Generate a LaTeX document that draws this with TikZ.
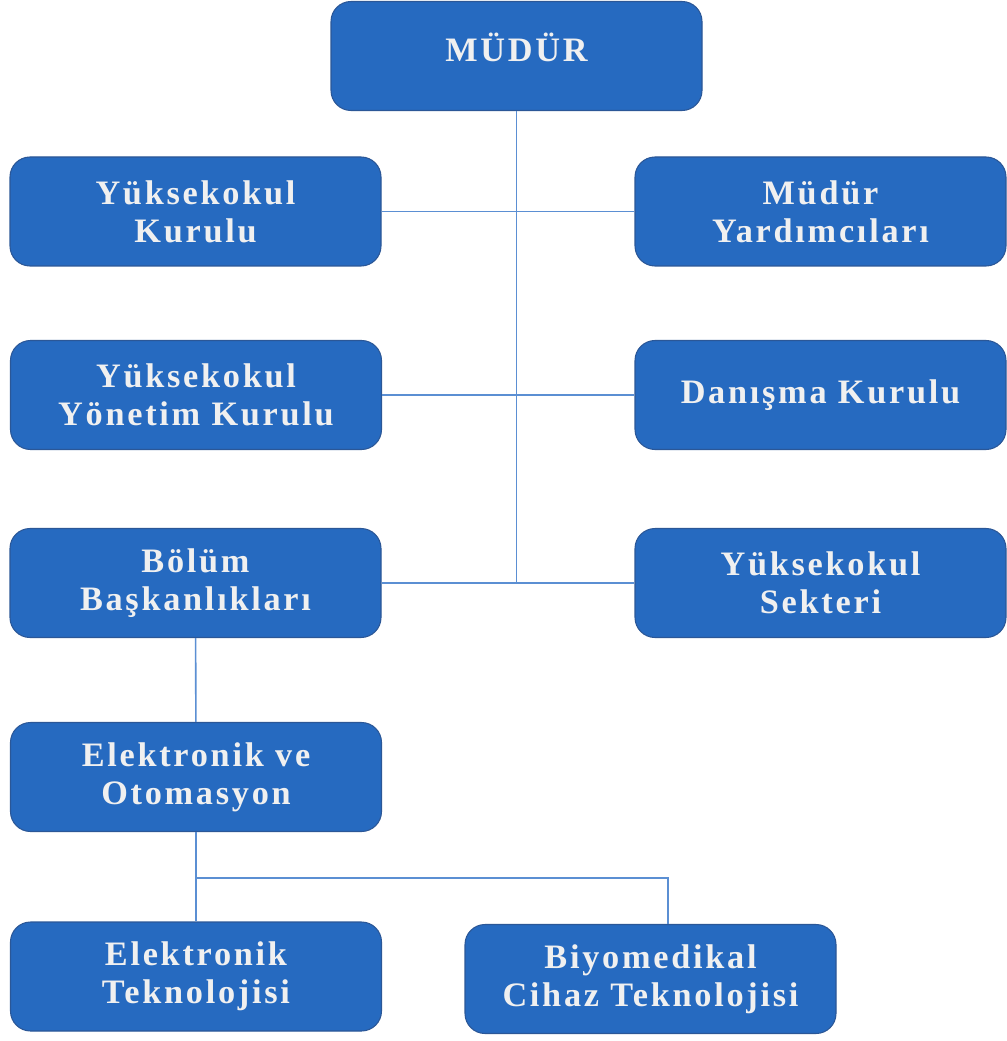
\documentclass[tikz,border=0pt]{standalone}
\usepackage{fontspec}
\usepackage{tikz}
\newfontfamily\unitfont[LetterSpace=8]{Liberation Serif}
\definecolor{unitblue}{HTML}{266AC0}
\definecolor{unitedge}{HTML}{2B5797}
\definecolor{linkblue}{HTML}{5B8FD3}
\tikzstyle{unit} = [draw=unitedge,fill=unitblue,line width=0.6pt,rounded corners=0.4cm,minimum width=7.42cm,minimum height=2.18cm,align=center,text=white!88!gray,font=\unitfont\bfseries\fontsize{19.5}{21.8}\selectfont]
\tikzstyle{link} = [draw=linkblue,line width=0.9pt]

\begin{document}
\begin{tikzpicture}
    \useasboundingbox (0,0) rectangle (20.12,-20.82);

    \node[unit,text depth=0.34cm] (mudur) at (10.33,-1.12) {MÜDÜR};
    \node[unit] (ykurul) at (3.91,-4.23) {Yüksekokul\\Kurulu};
    \node[unit] (myard) at (16.41,-4.23) {Müdür\\Yardımcıları};
    \node[unit] (yyonetim) at (3.92,-7.9) {Yüksekokul\\Yönetim Kurulu};
    \node[unit] (danisma) at (16.41,-7.9) {Danışma Kurulu};
    \node[unit] (bolum) at (3.91,-11.66) {Bölüm\\Başkanlıkları};
    \node[unit] (sekreter) at (16.41,-11.66) {Yüksekokul\\Sekteri};
    \node[unit] (otomasyon) at (3.92,-15.54) {Elektronik ve\\Otomasyon};
    \node[unit] (eteknoloji) at (3.92,-19.53) {Elektronik\\Teknolojisi};
    \node[unit] (biyomedikal) at (13.01,-19.58) {Biyomedikal\\Cihaz Teknolojisi};

    \coordinate (trunk) at (mudur.south |- bolum.east);
    \coordinate (split) at (3.92,-17.56);

    \draw[link] (mudur) -- (trunk);
    \draw[link] (ykurul) -- (myard);
    \draw[link] (yyonetim) -- (danisma);
    \draw[link] (bolum) -- (sekreter);
    \draw[link] (bolum) -- (otomasyon);
    \draw[link] (otomasyon) -- (eteknoloji);
    \draw[link] (split) -| ([xshift=0.35cm]biyomedikal.north);

\end{tikzpicture}
\end{document}
